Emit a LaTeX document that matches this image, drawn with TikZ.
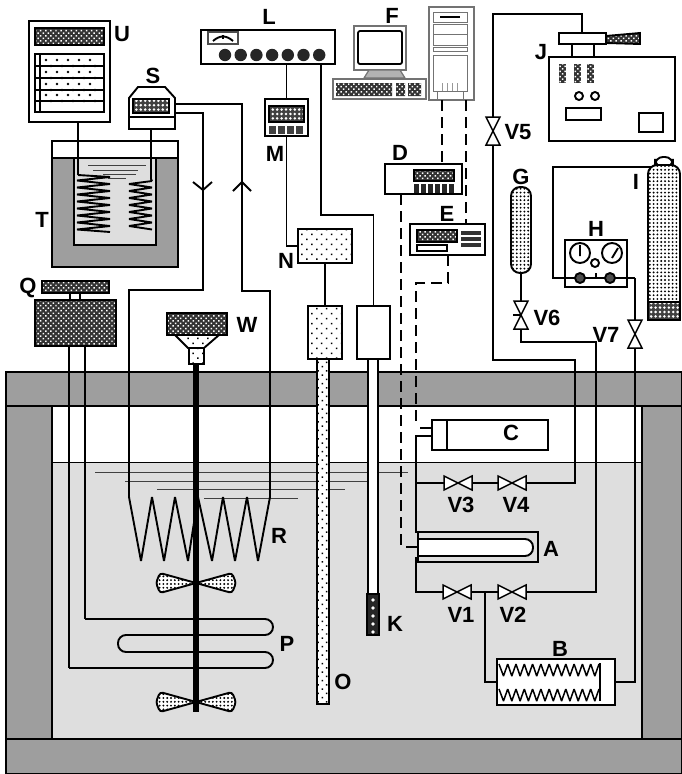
\documentclass[tikz,border=0pt]{standalone}
\usepackage{fontspec}
\setsansfont{Liberation Sans}
\usepackage{tikz}
\usetikzlibrary{patterns.meta,positioning}
\definecolor{wallgray}{gray}{0.62}
\definecolor{watergray}{gray}{0.87}
\tikzset{
  pipe/.style={line width=1.9pt},
  wire/.style={line width=1.9pt,dash pattern=on 11pt off 6pt},
  panel/.style={draw,pipe,fill=white,anchor=north west,inner sep=0pt,outer sep=0pt},
  wh/.style 2 args={minimum width=#1,minimum height=#2},
  darkdots/.style={preaction={fill=black!80},pattern={Dots[distance=3.6pt,radius=1.05pt,angle=45]},pattern color=white},
  rowdots/.style={preaction={fill=white},pattern={Dots[distance=3.8pt,radius=1.05pt]},pattern color=black},
  griddots/.style={preaction={fill=black!75},pattern={Dots[distance=4.4pt,radius=1.4pt]},pattern color=white},
  lightdots/.style={preaction={fill=white},pattern={Dots[distance=7pt,radius=1.05pt,angle=45]},pattern color=black},
  lbl/.style={font=\sffamily\bfseries\fontsize{22}{22}\selectfont,inner sep=0pt},
  liquid/.style={line width=1pt,black!75},
  screengray/.style={draw=black!55,line width=1.2pt,fill=white},
  valve/.pic={\draw[line width=1.5pt,fill=white] (-14,-7) -- (14,7) -- (14,-7) -- (-14,7) -- cycle;}
}
\begin{document}
\begin{tikzpicture}[x=1pt,y=-1pt,>=latex]
\useasboundingbox (0,0) rectangle (682,774);
% tank
\fill[watergray] (52,462) rectangle (642,739);
\draw[liquid,black] (52,462) -- (642,462);
\draw[pipe,fill=wallgray] (6,372) rectangle (682,406);
\draw[pipe,fill=wallgray] (6,406) rectangle (52,739);
\draw[pipe,fill=wallgray] (642,406) rectangle (682,739);
\draw[pipe,fill=wallgray] (6,739) rectangle (682,774);
% bath level
\draw[liquid] (95,472) -- (408,472);
\draw[liquid] (125,481) -- (376,481);
\draw[liquid] (157,489) -- (345,489);
\draw[liquid] (204,498) -- (298,498);
% chiller T
\node[panel,wh={126}{126}] (T) at (52,141) {};
\fill[wallgray] (53,158) rectangle (177,266);
\draw[pipe] (52,158) -- (178,158);
\node[panel,fill=watergray,line width=2.2pt,wh={82}{87}] (Tb) at (74,158) {};
\foreach \y/\a/\b in {165/88/146,170/93/138,174/103/136,178/108/126} {
  \draw[liquid] (\a,\y) -- (\b,\y);
}
\draw[line width=1.9pt,line join=bevel] (78,175) \foreach \y in {177,184,...,226} { -- (110,\y) -- (77,\y+3.5)} -- (110,232);
\draw[line width=1.9pt,line join=bevel] (152,181) \foreach \y in {184,191,...,226} { -- (129,\y) -- (152,\y+3.5)};
% controller U
\node[panel,wh={81}{101}] (U) at (29,21) {};
\node[panel,darkdots,wh={69}{17}] (Ua) at (35,28) {};
\node[panel,wh={69}{58}] (Ub) at (35,54) {};
\draw[pipe] (40,54) -- (40,112);
\foreach \y in {66,78,90,101} {
  \draw[pipe] (36,\y) -- (103,\y);
  \foreach \x in {46,57,...,100} { \fill (\x,\y-6) circle[radius=1.4] (\x+5,\y) circle[radius=1.4]; }
}
\draw[line width=2.2pt] (U.south -| 78,0) -- (78,175);
% pump S
\draw[pipe,fill=white] (129,98) -- (138,87) -- (165,87) -- (175,98) -- (175,129) -- (129,129) -- cycle;
\node[panel,griddots,wh={36}{14}] (Sa) at (133,99) {};
\draw[pipe] (129,117) -- (175,117);
\coordinate (Sb) at (151,129);
\coordinate (Sc) at (175,104);
\coordinate (Sd) at (175,113);
\draw[pipe] (Sb) -- (151,179) -- (152,181);
% circulation loop
\coordinate (Ra) at (129,497);
\coordinate (Rb) at (270,497);
\draw[pipe] (Sc) -- (242,104) -- (242,291) -- (270,291) -- (Rb);
\draw[pipe] (Sd) -- (203,113) -- (203,290) -- (129,290) -- (Ra);
\draw[pipe] (193,182) -- (203,190) -- (212,182);
\draw[pipe] (233,191) -- (242,182) -- (251,191);
\draw[pipe,miter limit=3] (Ra) -- (141,561) -- (152,497) -- (164,561) -- (175,497) -- (188,561) -- (198,497) -- (212,561) -- (223,497) -- (235,561) -- (247,497) -- (258,561) -- (Rb);
% cooler Q and coil P
\node[panel,darkdots,wh={67}{12}] (Qa) at (42,281) {};
\node[panel,darkdots,wh={81}{46}] (Q) at (35,300) {};
\draw[pipe] (70,293) -- (70,300);
\draw[pipe] (80,293) -- (80,300);
\draw[pipe] (85,346) -- (85,619);
\draw[pipe] (69,346) -- (69,668);
\draw[pipe,rounded corners=8pt] (85,619) -- (273,619) -- (273,635) -- (118,635) -- (118,652) -- (273,652) -- (273,668) -- (69,668);
% stirrer W
\draw[pipe,fill=white] (175,335) -- (188,348) -- (204,348) -- (219,335) -- cycle;
\fill[pattern={Dots[distance=7pt,radius=1.05pt,angle=45]}] (178,336) -- (188,347) -- (204,347) -- (217,336) -- cycle;
\node[panel,darkdots,wh={60}{22}] (W) at (167,313) {};
\fill[black] (193,364) rectangle (199,712);
\node[panel,lightdots,wh={15}{16}] (Wb) at (189,348) {};
\foreach \y in {583,702} {
  \draw[pipe,rowdots,rounded corners=3pt] (196,\y) -- (160,\y-10) -- (156,\y) -- (160,\y+10) -- cycle;
  \draw[pipe,rowdots,rounded corners=3pt] (196,\y) -- (232,\y-10) -- (236,\y) -- (232,\y+10) -- cycle;
}
% power unit L and controller M
\node[panel,wh={134}{34}] (L) at (201,30) {};
\node[panel,draw=black!70,wh={30}{12}] (La) at (208,32) {};
\draw[pipe] (213,41) .. controls (220,35) and (226,35) .. (233,41);
\draw[pipe] (223,35) -- (223,39);
\foreach \x in {225,240.7,...,322} { \fill[black!85] (\x,55) circle[radius=6.2]; }
\node[panel,wh={43}{37}] (M) at (265,99) {};
\node[panel,griddots,wh={35}{16}] (Ma) at (269,106) {};
\foreach \x in {269,278,287,296} { \fill[black!75] (\x,126) rectangle ++(7,8); }
\node[panel,lightdots,wh={54}{34}] (N) at (298,229) {};
\draw[pipe] (M.north |- L.south) -- (M.north);
\draw[pipe] (M.south) |- (N.west);
% probes O and K
\node[panel,lightdots,wh={34}{53}] (Oa) at (308,306) {};
\node[panel,wh={33}{53}] (Ka) at (357,306) {};
\node[panel,lightdots,pattern={Dots[distance=6pt,radius=1.05pt,angle=45]},wh={12}{345}] (Ob) at (317,359) {};
\node[panel,wh={10}{235}] (Kb) at (368,359) {};
\node[panel,fill=black!85,wh={12}{41}] (Kc) at (367,594) {};
\foreach \y in {600,608,...,632} { \fill[white] (373,\y) circle[radius=1.8]; }
\coordinate (Lk) at (321,215);
\draw[pipe] (N.south) -- (Oa.north);
\draw[pipe] (L.south -| Lk) -- (Lk) -| (Ka.north);
% computer F
\node[panel,screengray,line width=1.8pt,wh={52}{44}] (Fa) at (354,26) {};
\node[panel,line width=1.8pt,rounded corners=2pt,wh={44}{33}] (Fb) at (358,31) {};
\draw[screengray,fill=black!30] (369,70) -- (400,70) -- (405,78) -- (364,78) -- cycle;
\node[panel,screengray,wh={93}{20}] (Fc) at (333,79) {};
\fill[darkdots] (336,83) rectangle (392,96) (396,83) rectangle (405,96) (408,83) rectangle (421,96);
\node[panel,screengray,wh={45}{93}] (Fd) at (429,7) {};
\foreach \y/\h in {12/10,24/21,47/4,55/36} { \draw[black!55,line width=1pt] (433,\y) rectangle (467,\y+\h); }
\draw[line width=2pt] (440,17) -- (460,17);
\draw[black!55,line width=1pt] (433,34) -- (467,34);
\draw[black!55,line width=1pt] (437,91) rectangle (463,99);
\draw[black!40,line width=0.6pt] (442,83) -- (442,91) (447,83) -- (447,91) (452,83) -- (452,91) (457,83) -- (457,91);
% meters D and E
\node[panel,wh={77}{30}] (D) at (385,164) {};
\node[panel,darkdots,wh={40}{11}] (Da) at (414,170) {};
\foreach \x in {414,421,...,449} { \fill[black!85] (\x,184) rectangle ++(5,9); }
\node[panel,wh={75}{31}] (E) at (410,224) {};
\node[panel,darkdots,wh={40}{12}] (Ea) at (417,230) {};
\node[panel,wh={30}{6}] (Eb) at (417,245) {};
\foreach \y in {231,237,243} { \fill[black!80] (461,\y) rectangle (481,\y+4); }
\coordinate (Ed) at (448,255);
\coordinate (Ee) at (416,283);
\coordinate (Ci) at (420,428);
\coordinate (Ai) at (406,547);
\draw[wire] (442,100) -- (442,164);
\draw[wire] (466,100) -- (466,224);
\draw[wire] (401,194) -- (401,545);
\draw[wire] (Ed) |- (Ee) -- (416,427);
\draw[pipe] (Ci) -- (432,428);
\draw[pipe] (Ai) -- (418,547);
% cell C and sample A
\node[panel,wh={116}{30}] (C) at (432,420) {};
\draw[pipe] (447,420) -- (447,450);
\coordinate (Ca) at (432,436);
\coordinate (Cb) at (416,483);
\node[panel,fill=watergray,wh={120}{30}] (A) at (418,532) {};
\draw[pipe,fill=white,rounded corners=8pt] (419,539) -- (533,539) -- (533,556) -- (419,556);
% valves
\coordinate (V1) at (457,592);
\coordinate (V2) at (512,592);
\coordinate (V3) at (458,483);
\coordinate (V4) at (512,483);
\coordinate (V5) at (493,131);
\coordinate (V6) at (521,315);
\coordinate (V7) at (635,334);
\coordinate (Vj) at (485,592);
% reservoir G, panel H, bottle I
\node[panel,rowdots,rounded corners=9pt,wh={20}{86}] (G) at (511,187) {};
\node[panel,wh={62}{47}] (H) at (565,240) {};
\draw[pipe] (580,253) circle[radius=10] (612,253) circle[radius=10] (595,263) circle[radius=4];
\draw[pipe] (580,245) -- (580,256) (612,258) -- (618,248);
\draw[pipe,rounded corners=8pt,fill=white] (655,167) rectangle (673,157);
\coordinate (Hl) at (553,278);
\coordinate (Hr) at (635,278);
\draw[pipe] (655,167) -| (Hl) -- (Hr);
\draw[pipe] (596,273) -- (596,278);
\foreach \x in {580,610} { \draw[pipe,fill=black!70] (\x,278) circle[radius=5]; }
\draw[pipe,rowdots,rounded corners=9pt] (648,320) -- (648,165) -- (680,165) -- (680,320) [sharp corners] -- cycle;
\node[panel,griddots,wh={32}{18}] (Ib) at (648,302) {};
\draw[pipe] (521,273) -- (V6);
\draw[pipe] (V6) -- (521,342) -| (596,592) -- (V2);
\draw[pipe] (V7) -- (Hr);
\draw[pipe] (V4) -| (575,360) -| (V5);
\draw[pipe] (V5) |- (582,14) -- (582,33);
% heat exchanger B
\node[panel,wh={118}{46}] (B) at (497,659) {};
\foreach \y in {664,689} {
  \draw[line width=1.5pt,line join=bevel] (499,\y) \foreach \x in {0,1,...,11} { -- (503.5+\x*8.3,\y+12) -- (507.7+\x*8.3,\y)} ;
}
\draw[pipe] (600,663) -- (600,701);
\draw[pipe] (Ca) -| (Cb) -- (416,532) -- (418,532);
\draw[pipe] (418,558) -- (416,558) |- (V1);
\draw[pipe] (Cb) -- (V3) -- (V4);
\draw[pipe] (V1) -- (V2);
\draw[pipe] (Vj) |- (B.west);
\draw[pipe] (B.east) -| (V7);
\foreach \v in {V1,V2,V3,V4} { \path (\v) pic {valve}; }
\path (V5) pic[rotate=90] {valve};
\path (V6) pic[rotate=90] {valve};
\path (V7) pic[rotate=90] {valve};
\draw[pipe] (513,315) -- (521,315);
% power supply J
\node[panel,wh={126}{84}] (J) at (549,57) {};
\node[panel,wh={47}{11}] (Ja) at (559,33) {};
\draw[pipe,darkdots] (606,36) -- (640,33) -- (640,44) -- (606,43) -- cycle;
\draw[pipe] (572,44) -- (572,57);
\draw[pipe] (594,44) -- (594,57);
\foreach \x in {559,574,587} { \fill[darkdots] (\x,64) rectangle ++(7,19); }
\draw[pipe] (579,96) circle[radius=4] (595,96) circle[radius=4];
\node[panel,wh={35}{12}] (Jb) at (566,108) {};
\node[panel,wh={24}{19}] (Jc) at (639,113) {};
% labels
\node[lbl] (lU) at (122,34) {U};
\node[lbl] (lL) at (269,17) {L};
\node[lbl] (lS) at (153,76) {S};
\node[lbl] (lM) at (275,154) {M};
\node[lbl] (lT) at (42,220) {T};
\node[lbl] (lN) at (286,261) {N};
\node[lbl] (lQ) at (28,288) {Q};
\node[lbl] (lW) at (247,325) {W};
\node[lbl] (lF) at (392,16) {F};
\node[lbl] (lD) at (400,153) {D};
\node[lbl] (lE) at (447,214) {E};
\node[lbl] (lJ) at (541,52) {J};
\node[lbl] (lG) at (521,177) {G};
\node[lbl] (lI) at (636,182) {I};
\node[lbl] (lH) at (596,229) {H};
\node[lbl] (lV5) at (518,132) {V5};
\node[lbl] (lV6) at (547,318) {V6};
\node[lbl] (lV7) at (606,335) {V7};
\node[lbl] (lC) at (511,433) {C};
\node[lbl] (lV3) at (461,505) {V3};
\node[lbl] (lV4) at (516,505) {V4};
\node[lbl] (lA) at (551,549) {A};
\node[lbl] (lV1) at (461,615) {V1};
\node[lbl] (lV2) at (513,615) {V2};
\node[lbl] (lK) at (395,624) {K};
\node[lbl] (lB) at (560,649) {B};
\node[lbl] (lR) at (279,536) {R};
\node[lbl] (lP) at (287,644) {P};
\node[lbl] (lO) at (343,682) {O};
\end{tikzpicture}
\end{document}
